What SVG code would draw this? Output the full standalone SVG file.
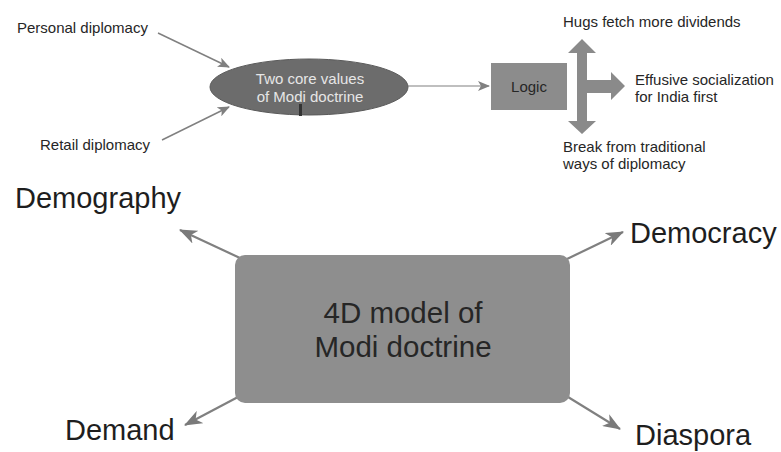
<svg xmlns="http://www.w3.org/2000/svg" width="781" height="452" viewBox="0 0 781 452">
<style>
.sm{font-family:"Liberation Sans",Arial,sans-serif;font-size:15px;fill:#262626}
.lg{font-family:"Liberation Sans",Arial,sans-serif;font-size:29px;fill:#1e1e1e}
.big{font-family:"Liberation Sans",Arial,sans-serif;font-size:29.5px;fill:#262626;text-anchor:middle}
.wl{font-family:"Liberation Sans",Arial,sans-serif;font-size:15px;fill:#e6e6e6;text-anchor:middle}
.c{stroke:#808080;fill:none}
</style>
<defs>
<marker id="ah" viewBox="0 0 12 10" refX="11" refY="5" markerWidth="12" markerHeight="10" markerUnits="userSpaceOnUse" orient="auto">
<path d="M0,0 L12,5 L0,10 L3,5 Z" fill="#808080"/>
</marker>
<marker id="ahb" viewBox="0 0 18 14" refX="17" refY="7" markerWidth="18" markerHeight="14" markerUnits="userSpaceOnUse" orient="auto">
<path d="M0,0 L18,7 L0,14 L5,7 Z" fill="#7a7a7a"/>
</marker>
</defs>
<rect width="781" height="452" fill="#ffffff"/>
<g id="connectors">
<line class="c" x1="158" y1="33" x2="229" y2="67" stroke-width="1.5" marker-end="url(#ah)"/>
<line class="c" x1="162" y1="140" x2="229" y2="107" stroke-width="1.5" marker-end="url(#ah)"/>
<line class="c" x1="408" y1="86" x2="489" y2="86" stroke-width="1.2" marker-end="url(#ah)"/>
<line class="c" x1="240" y1="258" x2="180" y2="230" stroke-width="2.2" marker-end="url(#ahb)"/>
<line class="c" x1="238" y1="397" x2="185" y2="425" stroke-width="2.2" marker-end="url(#ahb)"/>
<line class="c" x1="567" y1="259" x2="623" y2="232" stroke-width="2.2" marker-end="url(#ahb)"/>
<line class="c" x1="568" y1="397" x2="620" y2="429" stroke-width="2.2" marker-end="url(#ahb)"/>
</g>
<g id="personal"><text class="sm" x="17" y="33">Personal diplomacy</text></g>
<g id="retail"><text class="sm" x="40" y="150">Retail diplomacy</text></g>
<g id="core">
<ellipse cx="309" cy="87" rx="99" ry="28" fill="#6c6c6c" stroke="#5a5a5a" stroke-width="1"/>
<text class="wl" x="310" y="84">Two core values</text>
<text class="wl" x="310" y="102">of Modi doctrine</text>
<rect x="299" y="104" width="3" height="12" fill="#333"/>
</g>
<g id="logic">
<rect x="491" y="63" width="76" height="47" fill="#8c8c8c"/>
<text class="sm" x="529" y="92" text-anchor="middle" font-size="16">Logic</text>
</g>
<g id="cross">
<polygon points="582,39 596,53 587,53 587,80 611,80 611,72 625,86 611,100 611,93 587,93 587,121 596,121 582,134 568,121 577,121 577,53 568,53" fill="#8a8a8a"/>
</g>
<g id="hugs"><text class="sm" x="563" y="27">Hugs fetch more dividends</text></g>
<g id="effusive"><text class="sm" x="635" y="85">Effusive socialization</text><text class="sm" x="635" y="102">for India first</text></g>
<g id="break"><text class="sm" x="563" y="152">Break from traditional</text><text class="sm" x="563" y="169">ways of diplomacy</text></g>
<g id="model">
<rect x="235" y="255" width="335" height="148" rx="10" fill="#8e8e8e"/>
<text class="big" x="403" y="323">4D model of</text>
<text class="big" x="403" y="357">Modi doctrine</text>
</g>
<g id="demography"><text class="lg" x="15" y="208">Demography</text></g>
<g id="demand"><text class="lg" x="65" y="440">Demand</text></g>
<g id="democracy"><text class="lg" x="630" y="243">Democracy</text></g>
<g id="diaspora"><text class="lg" x="635" y="445">Diaspora</text></g>
</svg>
